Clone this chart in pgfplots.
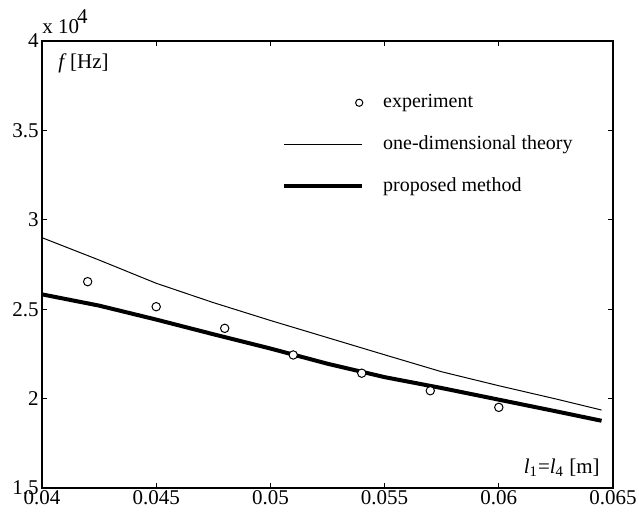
\documentclass[border=0pt]{standalone}
\usepackage{fontspec}
\setmainfont{Liberation Serif}
\usepackage{pgfplots}
\pgfplotsset{compat=1.18}
\pgfplotsset{
  circlegend/.style={legend image code/.code={\draw[##1] plot coordinates {(37.5bp,0bp)};}},
  linelegend/.style={legend image code/.code={\draw[##1] (0bp,0bp) -- (39bp,0bp);}},
}

\begin{document}
\fontsize{10.5bp}{12bp}\selectfont
\begin{tikzpicture}
  \begin{axis}[
      scale only axis,
      width=285.5bp, height=223.5bp,
      xmin=0.04, xmax=0.065,
      ymin=15000, ymax=40000,
      xtick={0.04,0.045,0.05,0.055,0.06,0.065},
      xticklabels={0.04,0.045,0.05,0.055,0.06,0.065},
      ytick={15000,20000,25000,30000,35000,40000},
      yticklabels={1.5,2,2.5,3,3.5,4},
      scaled ticks=false,
      tick align=inside,
      major tick length=2.5bp,
      axis line style={line width=0.6bp},
      tick style={line width=0.5bp, black},
      ticklabel style={font=\fontsize{10.5bp}{12bp}\selectfont},
      xticklabel style={inner sep=1bp},
      yticklabel style={inner sep=1.5bp},
      legend style={draw=none, fill=none, at={(rel axis cs:0.42,0.89)},
        anchor=north west, inner sep=0pt, row sep=8.5bp, column sep=7.5bp,
        font=\fontsize{10bp}{12bp}\selectfont},
      legend cell align=left,
    ]
    \coordinate (bl) at (rel axis cs:0,0);
    \coordinate (tr) at (rel axis cs:1,1);

    \addlegendimage{only marks, mark=o, mark size=1.8bp, mark options={line width=0.5bp}, circlegend}
    \addlegendentry{experiment}
    \addlegendimage{black, line width=0.5bp, linelegend}
    \addlegendentry{one-dimensional theory}
    \addlegendimage{black, line width=2bp, linelegend}
    \addlegendentry{proposed method}

    % one-dimensional theory
    \addplot[black, line width=0.5bp, forget plot] coordinates {
      (0.040,29000) (0.0425,27750) (0.045,26450) (0.0475,25370) (0.050,24370)
      (0.0525,23410) (0.055,22450) (0.0575,21500) (0.060,20720) (0.0625,19980)
      (0.0645,19360)
    };
    % proposed method
    \addplot[black, line width=2bp, forget plot] coordinates {
      (0.040,25830) (0.0425,25200) (0.045,24420) (0.0475,23600) (0.050,22800)
      (0.0525,21950) (0.055,21200) (0.0575,20590) (0.060,19940) (0.0625,19290)
      (0.0645,18760)
    };
    % experiment
    \addplot[only marks, mark=*, mark size=2.1bp,
      mark options={fill=white, draw=black, line width=0.5bp}, forget plot] coordinates {
      (0.042,26540) (0.045,25140) (0.048,23930) (0.051,22440)
      (0.054,21420) (0.057,20440) (0.060,19510)
    };

    \node[anchor=base west, inner sep=0pt, xshift=8bp, yshift=-13.5bp]
      at (rel axis cs:0,1) {\textit{f}\,[Hz]};
    \node[anchor=base east, inner sep=0pt, xshift=-6.5bp, yshift=7.5bp]
      at (rel axis cs:1,0) {\textit{l}\textsubscript{1}=\textit{l}\textsubscript{4} [m]};
  \end{axis}
  \node[anchor=base west, inner sep=0pt, yshift=4bp] at (tr -| bl)
    {x 10\hspace{-0.1em}\raisebox{0.45em}{4}};
  \pgfresetboundingbox
  \path[use as bounding box] ([xshift=-21bp,yshift=-14.5bp]bl) rectangle ([xshift=13bp,yshift=20.5bp]tr);
\end{tikzpicture}
\end{document}
